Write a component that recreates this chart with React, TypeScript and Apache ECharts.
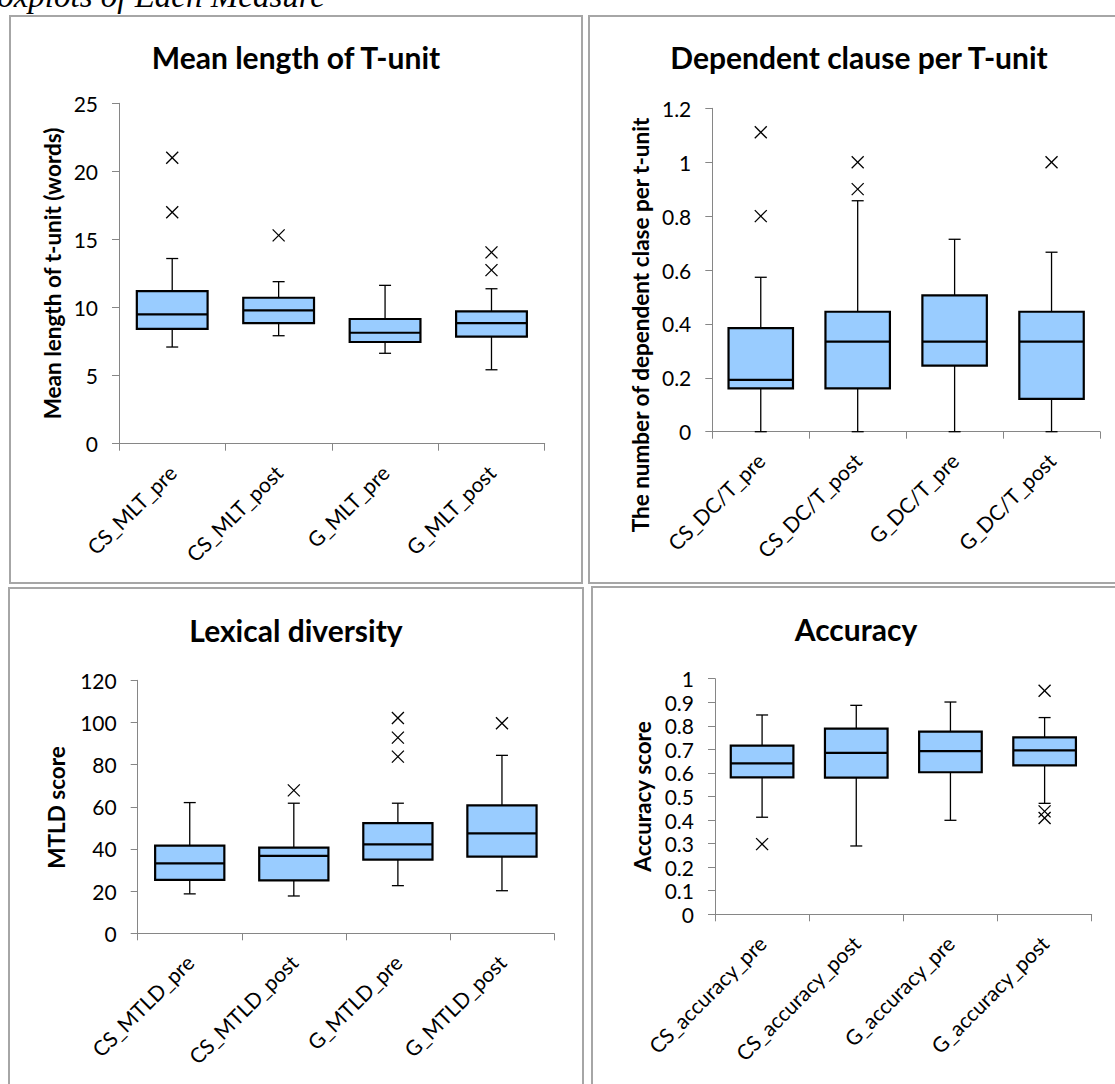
import React, { useEffect, useRef } from "react";
import * as echarts from "echarts";

// ---------- data ----------
const mltCategories = ["CS_MLT_pre", "CS_MLT_post", "G_MLT_pre", "G_MLT_post"];
// [min, Q1, median, Q3, max]
const mltBoxes = [
  [7.1, 8.44, 9.5, 11.2, 13.6],
  [7.93, 8.86, 9.79, 10.72, 11.9],
  [6.64, 7.47, 8.15, 9.16, 11.63],
  [5.43, 7.86, 8.86, 9.72, 11.38],
];
const mltOutliers = [[0, 21.0], [0, 17.0], [1, 15.3], [3, 14.05], [3, 12.75]];

const dcCategories = ["CS_DC/T_pre", "CS_DC/T_post", "G_DC/T_pre", "G_DC/T_post"];
const dcBoxes = [
  [0, 0.161, 0.192, 0.384, 0.573],
  [0, 0.161, 0.334, 0.445, 0.857],
  [0, 0.245, 0.334, 0.506, 0.714],
  [0, 0.122, 0.334, 0.445, 0.666],
];
const dcOutliers = [[0, 1.111], [0, 0.8], [1, 1.0], [1, 0.9], [3, 1.0]];

const mtldCategories = ["CS_MTLD_pre", "CS_MTLD_post", "G_MTLD_pre", "G_MTLD_post"];
const mtldBoxes = [
  [18.7, 25.3, 33.2, 41.6, 62.0],
  [17.7, 25.1, 36.7, 40.6, 61.7],
  [22.6, 34.9, 42.2, 52.3, 61.7],
  [20.2, 36.4, 47.4, 60.7, 84.4],
];
const mtldOutliers = [[1, 67.8], [2, 102.1], [2, 92.8], [2, 83.8], [3, 99.6]];

const accCategories = ["CS_accuracy_pre", "CS_accuracy_post", "G_accuracy_pre", "G_accuracy_post"];
const accBoxes = [
  [0.412, 0.581, 0.641, 0.716, 0.846],
  [0.29, 0.58, 0.685, 0.788, 0.887],
  [0.399, 0.603, 0.693, 0.775, 0.901],
  [0.471, 0.632, 0.696, 0.751, 0.835],
];
const accOutliers = [[0, 0.298], [3, 0.949], [3, 0.437], [3, 0.409]];

const panelTitles = ["Mean length of T-unit", "Dependent clause per T-unit", "Lexical diversity", "Accuracy"];
const axisNames = [
  "Mean length of t-unit (words)",
  "The number of dependent clase per t-unit",
  "MTLD score",
  "Accuracy score",
];
const yMax = [25, 1.2, 120, 1];
const yStep = [5, 0.2, 20, 0.1];
const caption = "Boxplots of Each Measure";

// ---------- layout / style ----------
const FONT = "Lato";
const AXIS_COLOR = "#868686";
const BOX_FILL = "#99CCFF";
const BOX_RATIO = 0.665;
const grids = [
  { left: 119, top: 103.3, width: 425.7, height: 340.4 },
  { left: 712.3, top: 108.3, width: 387.7, height: 323.4 },
  { left: 137.7, top: 680.3, width: 416.3, height: 253 },
  { left: 715, top: 678.7, width: 376.7, height: 235.6 },
];
const titlePos = [
  [296, 57],
  [859, 57],
  [296, 630],
  [856, 629],
];
const namePos = [
  [52, 273.5],
  [640, 325],
  [56, 807.5],
  [642, 796.5],
];
const panelRects = [
  { x: 10, y: 16, width: 572, height: 567 },
  { x: 589, y: 16, width: 600, height: 567 },
  { x: 9, y: 588, width: 574, height: 600 },
  { x: 592, y: 587, width: 600, height: 600 },
];

const boxRender = (params: any, api: any) => {
  const i = api.value(0);
  const vals = [1, 2, 3, 4, 5].map((k) => api.value(k));
  const cx = api.coord([i, vals[0]])[0];
  const py = vals.map((v: number) => api.coord([i, v])[1]);
  const bw = api.size([1, 0])[0] * BOX_RATIO;
  const half = bw / 2;
  const cap = 6;
  const thin = { stroke: "#000", lineWidth: 1.3 };
  return {
    type: "group",
    children: [
      { type: "line", shape: { x1: cx, y1: py[0], x2: cx, y2: py[1] }, style: thin },
      { type: "line", shape: { x1: cx, y1: py[3], x2: cx, y2: py[4] }, style: thin },
      { type: "line", shape: { x1: cx - cap, y1: py[0], x2: cx + cap, y2: py[0] }, style: thin },
      { type: "line", shape: { x1: cx - cap, y1: py[4], x2: cx + cap, y2: py[4] }, style: thin },
      {
        type: "rect",
        shape: { x: cx - half, y: py[3], width: bw, height: py[1] - py[3] },
        style: { fill: BOX_FILL, stroke: "#000", lineWidth: 2.2 },
      },
      {
        type: "line",
        shape: { x1: cx - half, y1: py[2], x2: cx + half, y2: py[2] },
        style: { stroke: "#000", lineWidth: 2.2 },
      },
    ],
  };
};

const outlierRender = (params: any, api: any) => {
  const p = api.coord([api.value(0), api.value(1)]);
  const s = 6;
  const st = { stroke: "#000", lineWidth: 1.3 };
  return {
    type: "group",
    children: [
      { type: "line", shape: { x1: p[0] - s, y1: p[1] - s, x2: p[0] + s, y2: p[1] + s }, style: st },
      { type: "line", shape: { x1: p[0] - s, y1: p[1] + s, x2: p[0] + s, y2: p[1] - s }, style: st },
    ],
  };
};

function buildOption() {
  const cats = [mltCategories, dcCategories, mtldCategories, accCategories];
  const boxes = [mltBoxes, dcBoxes, mtldBoxes, accBoxes];
  const outs = [mltOutliers, dcOutliers, mtldOutliers, accOutliers];

  const graphic: any[] = [];
  panelRects.forEach((r) =>
    graphic.push({
      type: "rect",
      shape: r,
      style: { fill: "none", stroke: "#a6a6a6", lineWidth: 2 },
      z: 0,
    })
  );
  axisNames.forEach((n, k) =>
    graphic.push({
      type: "text",
      x: namePos[k][0],
      y: namePos[k][1],
      rotation: Math.PI / 2,
      style: {
        text: n,
        font: `bold 22.5px ${FONT}`,
        fill: "#000",
        textAlign: "center",
        textVerticalAlign: "middle",
        align: "center",
        verticalAlign: "middle",
      },
    })
  );
  graphic.push({
    type: "text",
    x: 325,
    y: -4.3,
    style: {
      text: caption,
      font: `italic 33px "Liberation Serif"`,
      fill: "#000",
      textAlign: "right",
      textVerticalAlign: "middle",
      align: "right",
      verticalAlign: "middle",
    },
  });

  return {
    animation: false,
    backgroundColor: "#ffffff",
    title: panelTitles.map((t, k) => ({
      text: t,
      left: titlePos[k][0],
      top: titlePos[k][1] - 18,
      textAlign: "center",
      padding: 0,
      textStyle: { fontFamily: FONT, fontWeight: "bold", fontSize: 30, color: "#000", lineHeight: 36 },
    })),
    grid: grids.map((g) => ({ ...g, containLabel: false, outerBoundsMode: "none" })),
    xAxis: cats.map((c, k) => ({
      type: "category",
      gridIndex: k,
      data: c,
      axisLine: { show: true, lineStyle: { color: AXIS_COLOR, width: 1 } },
      axisTick: { show: true, length: 7, lineStyle: { color: AXIS_COLOR } },
      axisLabel: {
        rotate: 45,
        interval: 0,
        margin: 25,
        fontFamily: FONT,
        fontSize: 21,
        color: "#000",
      },
      splitLine: { show: false },
    })),
    yAxis: yMax.map((m, k) => ({
      type: "value",
      gridIndex: k,
      min: 0,
      max: m,
      interval: yStep[k],
      axisLine: { show: true, lineStyle: { color: AXIS_COLOR, width: 1 } },
      axisTick: { show: true, length: 7, lineStyle: { color: AXIS_COLOR } },
      axisLabel: { margin: 21, fontFamily: FONT, fontSize: 21, color: "#000" },
      splitLine: { show: false },
    })),
    series: [
      ...boxes.map((b, k) => ({
        type: "custom",
        xAxisIndex: k,
        yAxisIndex: k,
        clip: false,
        renderItem: boxRender,
        encode: { x: 0, y: [1, 2, 3, 4, 5] },
        data: b.map((row, i) => [i, ...row]),
        z: 3,
      })),
      ...outs.map((o, k) => ({
        type: "custom",
        xAxisIndex: k,
        yAxisIndex: k,
        clip: false,
        renderItem: outlierRender,
        encode: { x: 0, y: 1 },
        data: o,
        z: 4,
      })),
    ],
    graphic,
  };
}

export default function App() {
  const ref = useRef<HTMLDivElement>(null);
  useEffect(() => {
    if (!ref.current) return;
    const chart = echarts.init(ref.current, undefined, { renderer: "svg" });
    chart.setOption(buildOption() as any);
    return () => chart.dispose();
  }, []);
  return (
    <div
      ref={ref}
      style={{ position: "absolute", left: 0, top: 0, width: 1115, height: 1084, background: "#fff" }}
    />
  );
}
